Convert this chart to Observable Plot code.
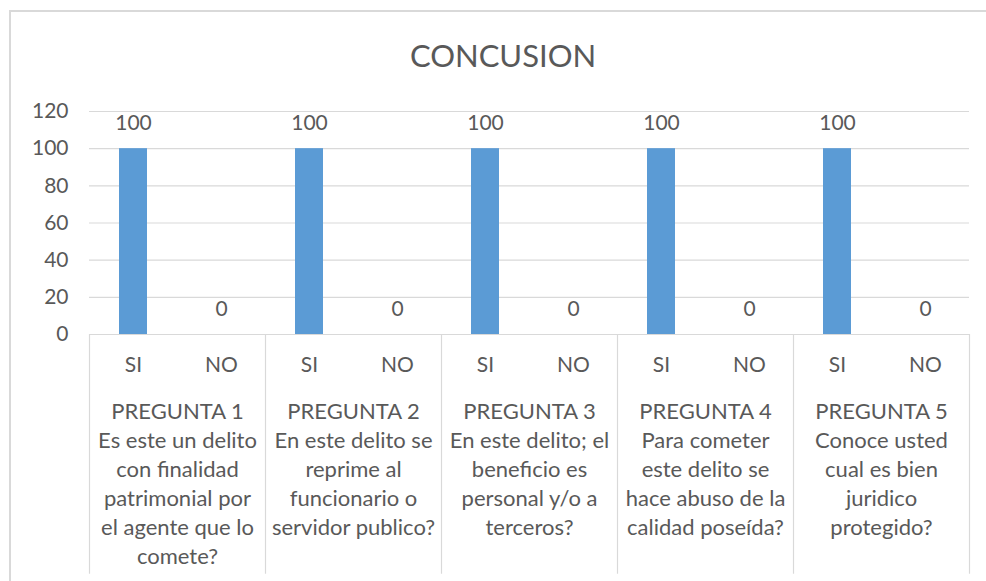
<!DOCTYPE html>
<html>
<head>
<meta charset="utf-8">
<script src="https://cdn.jsdelivr.net/npm/d3@7"></script>
<script src="https://cdn.jsdelivr.net/npm/@observablehq/plot@0.6"></script>
<style>
  html, body { margin: 0; padding: 0; background: #fff; }
  #wrap { position: relative; width: 986px; height: 581px; overflow: hidden; font-family: Lato, "Open Sans", sans-serif; }
  #border { position: absolute; left: 9px; top: 10px; width: 990px; height: 600px; border-left: 2px solid #d9d9d9; border-top: 2px solid #d9d9d9; box-sizing: border-box; }
  #title { position: absolute; left: 0; width: 1006px; top: 36px; text-align: center; font-size: 31px; color: #595959; }
  #chart { position: absolute; left: 0; top: 0; }
</style>
</head>
<body>
<div id="wrap">
  <div id="border"></div>
  <div id="title">CONCUSION</div>
  <div id="chart"></div>
</div>
<script>
const preguntas = ["PREGUNTA 1", "PREGUNTA 2", "PREGUNTA 3", "PREGUNTA 4", "PREGUNTA 5"];
const preguntaTextos = [
  "PREGUNTA 1\nEs este un delito\ncon finalidad\npatrimonial por\nel agente que lo\ncomete?",
  "PREGUNTA 2\nEn este delito se\nreprime al\nfuncionario o\nservidor publico?",
  "PREGUNTA 3\nEn este delito; el\nbeneficio es\npersonal y/o a\nterceros?",
  "PREGUNTA 4\nPara cometer\neste delito se\nhace abuso de la\ncalidad poseída?",
  "PREGUNTA 5\nConoce usted\ncual es bien\njuridico\nprotegido?"
];
const respuestas = ["SI", "NO"];
const valoresSI = [100, 100, 100, 100, 100];
const valoresNO = [0, 0, 0, 0, 0];
const yTicks = [0, 20, 40, 60, 80, 100, 120];

const data = [];
preguntas.forEach((p, i) => {
  data.push({pregunta: p, respuesta: "SI", valor: valoresSI[i]});
  data.push({pregunta: p, respuesta: "NO", valor: valoresNO[i]});
});
const qs = preguntas.map((p, i) => ({pregunta: p, texto: preguntaTextos[i]}));

const txt = "#595959";
const plot = Plot.plot({
  width: 986,
  height: 581,
  marginTop: 111,
  marginBottom: 247,
  marginLeft: 88,
  marginRight: 17,
  style: {fontFamily: "Lato, 'Open Sans', sans-serif", fontSize: "21px", color: txt, background: "transparent", overflow: "visible"},
  fx: {domain: preguntas, padding: 0, axis: null},
  x: {domain: respuestas, padding: 0, axis: null},
  y: {domain: [0, 120], ticks: yTicks, tickSize: 0, tickPadding: 21, label: null, grid: false},
  marks: [
    Plot.gridY(yTicks, {stroke: "#d9d9d9", strokeOpacity: 1, strokeWidth: 1.2}),
    Plot.ruleX(data.filter(d => d.respuesta === "SI"), {fx: "pregunta", x: "respuesta", y1: 0, y2: -129, dx: -44, stroke: "#d9d9d9", strokeWidth: 1.2}),
    Plot.ruleX(data.filter(d => d.respuesta === "NO" && d.pregunta === preguntas[preguntas.length - 1]), {fx: "pregunta", x: "respuesta", y1: 0, y2: -129, dx: 44, stroke: "#d9d9d9", strokeWidth: 1.2}),
    Plot.barY(data, {fx: "pregunta", x: "respuesta", y: "valor", fill: "#5b9bd5", insetLeft: 30, insetRight: 30}),
    Plot.text(data, {fx: "pregunta", x: "respuesta", y: "valor", text: d => String(d.valor), dy: -25, fill: txt, fontSize: 21}),
    Plot.text(data, {fx: "pregunta", x: "respuesta", text: "respuesta", frameAnchor: "bottom", lineAnchor: "middle", dy: 31, fill: txt, fontSize: 21}),
    Plot.text(qs, {fx: "pregunta", text: "texto", frameAnchor: "bottom", lineAnchor: "top", dy: 64, lineHeight: 1.32, fill: txt, fontSize: 22})
  ]
});
document.getElementById("chart").appendChild(plot);
</script>
</body>
</html>
